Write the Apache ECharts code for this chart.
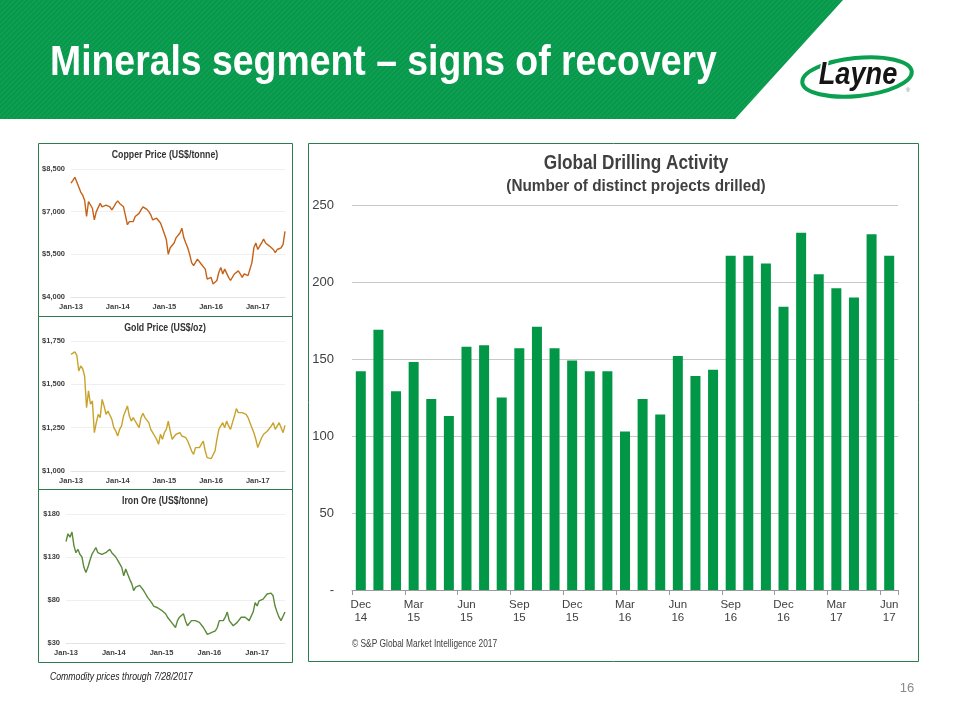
<!DOCTYPE html>
<html><head><meta charset="utf-8">
<script src="https://cdn.jsdelivr.net/npm/echarts@6/dist/echarts.min.js"></script>
<style>html,body{margin:0;padding:0;background:#fff}#c{width:960px;height:720px}</style>
</head><body><div id="c"></div>
<script>
// ---------- DATA ----------
// Commodity prices, half-month steps from Jan-13 to end Jul-17
const copperPrices = [8000,8100,8210,8230,7870,7690,7580,7400,6830,7350,
  7400,7120,6710,7000,6940,7290,7170,7120,7230,7290,
  7170,7060,7170,7290,7380,7290,7350,7170,7120,6540,
  6650,6710,6650,6830,6770,6940,7060,7170,7120,7080,
  7000,6890,6710,6770,6770,6710,6600,6420,6370,6020,
  5500,5730,5730,5900,6080,6020,6250,6420,6080,5900,
  5730,5500,5210,5100,5150,5330,5270,5150,5100,4980,
  4630,4630,4690,4460,4520,4580,4870,5040,4810,4980,
  5040,4690,4580,4630,4810,4870,4920,4810,4690,4810,
  4750,4750,4690,5210,5730,5900,5670,5790,5900,6040,
  5900,5850,5790,5730,5670,5560,5670,5700,5730,5850,6310];
const goldPrices = [1673,1683,1687,1667,1577,1606,1590,1548,1365,1462,
  1385,1404,1221,1279,1327,1308,1413,1375,1327,1346,
  1337,1298,1250,1231,1202,1240,1260,1317,1346,1375,
  1317,1288,1308,1288,1279,1250,1308,1333,1308,1298,
  1279,1240,1221,1202,1183,1154,1212,1183,1221,1240,
  1288,1231,1183,1173,1212,1202,1221,1202,1212,1192,
  1173,1164,1115,1096,1135,1144,1135,1154,1173,1115,
  1077,1067,1071,1077,1115,1183,1240,1260,1279,1250,
  1288,1260,1240,1279,1317,1360,1337,1346,1337,1327,
  1327,1308,1279,1279,1221,1183,1135,1164,1192,1212,
  1221,1231,1240,1260,1279,1240,1231,1279,1250,1221,1263];
const ironPrices = [148,157,153,159,143,135,139,133,130,118,
  112,118,126,133,137,141,135,133,133,135,
  135,137,139,135,135,130,126,122,118,108,
  116,110,104,99,91,95,97,97,95,91,
  87,83,81,77,73,71,71,70,68,68,
  64,60,60,54,52,48,56,60,62,64,
  56,50,50,56,56,56,56,54,52,48,
  44,40,39,42,42,44,48,56,54,56,
  60,66,56,56,50,52,54,56,60,62,
  60,58,56,58,66,77,73,79,79,81,
  83,87,89,88,85,73,66,60,56,57,66];
const yearLabels = ['Jan-13','Jan-14','Jan-15','Jan-16','Jan-17'];
const copperTicks = [4000,5500,7000,8500];
const goldTicks = [1000,1250,1500,1750];
const ironTicks = [30,80,130,180];

// Global drilling activity
const drillMonths = ['Dec-14','Jan-15','Feb-15','Mar-15','Apr-15','May-15','Jun-15','Jul-15','Aug-15','Sep-15','Oct-15','Nov-15',
  'Dec-15','Jan-16','Feb-16','Mar-16','Apr-16','May-16','Jun-16','Jul-16','Aug-16','Sep-16','Oct-16','Nov-16',
  'Dec-16','Jan-17','Feb-17','Mar-17','Apr-17','May-17','Jun-17'];
const drillProjects = [142,169,129,148,124,113,158,159,125,157,171,157,
  149,142,142,103,124,114,152,139,143,217,217,212,
  184,232,205,196,190,231,217];
const drillTicks = [0,50,100,150,200,250];

// ---------- CHART ----------
const SANS = "'Liberation Sans',Arial,sans-serif";
const toPairs = arr => arr.map((v, i) => [i / 2, v]);

const pc = document.createElement('canvas'); pc.width = 5; pc.height = 5;
const g = pc.getContext('2d');
g.fillStyle = '#06994b'; g.fillRect(0, 0, 5, 5);
g.strokeStyle = 'rgba(255,255,255,0.07)'; g.lineWidth = 1.2;
g.beginPath(); g.moveTo(0, 5); g.lineTo(5, 0); g.moveTo(-2.5, 2.5); g.lineTo(2.5, -2.5); g.moveTo(2.5, 7.5); g.lineTo(7.5, 2.5); g.stroke();

function smallX(idx) {
  return {
    type: 'value', gridIndex: idx, min: 0, max: 55, interval: 12,
    axisLine: { show: true, lineStyle: { color: '#e3e3e3' } },
    axisTick: { show: false }, splitLine: { show: false },
    axisLabel: { showMaxLabel: false, margin: 6, color: '#404040', fontSize: 7.5, fontWeight: 'bold', fontFamily: SANS,
      formatter: v => (v % 12 === 0 ? yearLabels[v / 12] : '') }
  };
}
function smallY(idx, ticks) {
  return {
    type: 'value', gridIndex: idx, min: ticks[0], max: ticks[ticks.length - 1], interval: ticks[1] - ticks[0],
    axisLine: { show: false }, axisTick: { show: false },
    splitLine: { show: true, lineStyle: { color: '#efefef' } },
    axisLabel: { margin: 6, color: '#404040', fontSize: 7.5, fontWeight: 'bold', fontFamily: SANS,
      formatter: v => '$' + v.toLocaleString('en-US') }
  };
}
function smallLine(idx, data, color) {
  return { type: 'line', xAxisIndex: idx, yAxisIndex: idx, data: toPairs(data), showSymbol: false,
    lineStyle: { color, width: 1.4 }, itemStyle: { color }, animation: false };
}
function label(x, y, text, font, fill, align, sx) {
  return { type: 'text', x, y, scaleX: sx || 1, silent: true,
    style: { text, fill, font: font + ' ' + SANS, align: align || 'center', verticalAlign: 'middle' } };
}

const option = {
  backgroundColor: '#ffffff',
  animation: false,
  grid: [
    { left: 71, top: 169, width: 214, height: 128 },
    { left: 71, top: 341, width: 214, height: 130 },
    { left: 66, top: 514, width: 219, height: 129 },
    { left: 352, top: 205, width: 546, height: 385 }
  ],
  xAxis: [smallX(0), smallX(1), smallX(2), {
    type: 'category', gridIndex: 3, data: drillMonths, boundaryGap: true,
    axisLine: { lineStyle: { color: '#9a9a9a' } },
    axisTick: { show: true, length: 5, lineStyle: { color: '#9a9a9a' } },
    axisLabel: { interval: 2, margin: 8, color: '#404040', fontSize: 11.5, fontFamily: SANS, lineHeight: 13,
      formatter: v => v.replace('-', '\n') }
  }],
  yAxis: [smallY(0, copperTicks), smallY(1, goldTicks), smallY(2, ironTicks), {
    type: 'value', gridIndex: 3, min: drillTicks[0], max: drillTicks[drillTicks.length - 1], interval: drillTicks[1] - drillTicks[0],
    axisLine: { show: false }, axisTick: { show: false },
    splitLine: { lineStyle: { color: '#c8c8c8' } },
    axisLabel: { margin: 18, color: '#404040', fontSize: 13, fontFamily: SANS,
      formatter: v => (v === 0 ? '-' : String(v)) }
  }],
  series: [
    smallLine(0, copperPrices, '#c5621a'),
    smallLine(1, goldPrices, '#c9a22c'),
    smallLine(2, ironPrices, '#5a8a3a'),
    { type: 'bar', xAxisIndex: 3, yAxisIndex: 3, data: drillProjects, barWidth: 10,
      itemStyle: { color: '#029746' } }
  ],
  graphic: [
    { type: 'polygon', silent: true, shape: { points: [[0, 0], [843, 0], [735, 119], [0, 119]] },
      style: { fill: { image: pc, repeat: 'repeat' } } },
    label(50, 63, 'Minerals segment – signs of recovery', 'bold 42px', '#ffffff', 'left', 0.89),
    { type: 'ellipse', x: 857, y: 77, rotation: 0.1, silent: true, shape: { cx: 0, cy: 0, rx: 55, ry: 19 },
      style: { fill: 'none', stroke: '#0aa04f', lineWidth: 4 } },
    { type: 'text', x: 858, y: 75, scaleX: 0.85, silent: true, style: { text: 'Layne', fill: '#151515', stroke: '#ffffff', lineWidth: 4,
      font: 'italic bold 32px ' + SANS, align: 'center', verticalAlign: 'middle' } },
    label(908, 90, '®', '6px', '#888'),

    { type: 'rect', silent: true, shape: { x: 38.5, y: 143.5, width: 254, height: 173 }, style: { fill: 'none', stroke: '#2c7d4e', lineWidth: 1 } },
    { type: 'rect', silent: true, shape: { x: 38.5, y: 316.5, width: 254, height: 173 }, style: { fill: 'none', stroke: '#2c7d4e', lineWidth: 1 } },
    { type: 'rect', silent: true, shape: { x: 38.5, y: 489.5, width: 254, height: 173 }, style: { fill: 'none', stroke: '#2c7d4e', lineWidth: 1 } },
    { type: 'rect', silent: true, shape: { x: 308.5, y: 143.5, width: 610, height: 518 }, style: { fill: 'none', stroke: '#2c7d4e', lineWidth: 1 } },

    label(165, 155, 'Copper Price (US$/tonne)', 'bold 10px', '#333', 'center', 0.88),
    label(165, 328, 'Gold Price (US$/oz)', 'bold 10px', '#333', 'center', 0.88),
    label(165, 501, 'Iron Ore (US$/tonne)', 'bold 10px', '#333', 'center', 0.88),

    label(636, 163, 'Global Drilling Activity', 'bold 20px', '#404040', 'center', 0.86),
    label(636, 186, '(Number of distinct projects drilled)', 'bold 17px', '#404040', 'center', 0.9),
    label(352, 644, '© S&P Global Market Intelligence 2017', '11px', '#404040', 'left', 0.76),

    label(50, 677, 'Commodity prices through 7/28/2017', 'italic 10px', '#222', 'left', 0.87),
    label(907, 688, '16', '13px', '#8a8a8a')
  ]
};
const chart = echarts.init(document.getElementById('c'), null, { renderer: 'canvas' });
chart.setOption(option);
</script></body></html>
